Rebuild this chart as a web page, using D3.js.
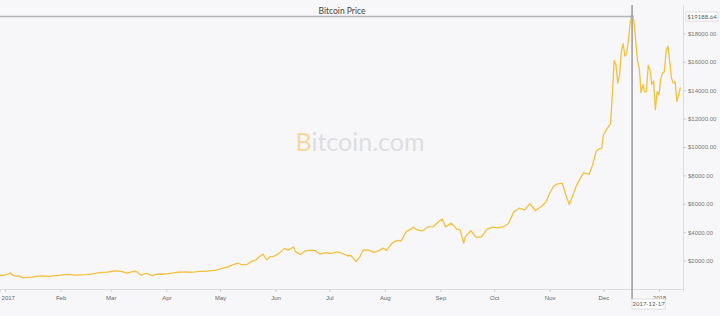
<!DOCTYPE html>
<html>
<head>
<meta charset="utf-8">
<script src="https://cdn.jsdelivr.net/npm/d3@7"></script>
<style>
  body { margin: 0; background: #f7f7f9; }
  svg { display: block; font-family: Lato, "Open Sans", sans-serif; }
</style>
</head>
<body>
<svg id="chart"></svg>
<script>
let width = 720;
let height = 316;

// daily-ish closing prices
let dates = ["2016-12-28","2016-12-31","2017-01-02","2017-01-04","2017-01-05","2017-01-07","2017-01-09","2017-01-11","2017-01-13","2017-01-16","2017-01-19","2017-01-22","2017-01-25","2017-01-28","2017-01-31",
  "2017-02-03","2017-02-06","2017-02-09","2017-02-12","2017-02-15","2017-02-18","2017-02-21","2017-02-24","2017-02-27",
  "2017-03-02","2017-03-04","2017-03-07","2017-03-10","2017-03-13","2017-03-15","2017-03-18","2017-03-21","2017-03-24","2017-03-27","2017-03-30",
  "2017-04-02","2017-04-05","2017-04-08","2017-04-11","2017-04-14","2017-04-17","2017-04-20","2017-04-23","2017-04-26","2017-04-29",
  "2017-05-02","2017-05-05","2017-05-08","2017-05-11","2017-05-13","2017-05-16","2017-05-19","2017-05-21","2017-05-23","2017-05-25","2017-05-27","2017-05-29","2017-05-31",
  "2017-06-03","2017-06-06","2017-06-08","2017-06-11","2017-06-12","2017-06-15","2017-06-17","2017-06-20","2017-06-23","2017-06-26","2017-06-29",
  "2017-07-02","2017-07-05","2017-07-08","2017-07-11","2017-07-13","2017-07-16","2017-07-18","2017-07-20","2017-07-23","2017-07-26","2017-07-29","2017-07-31",
  "2017-08-02","2017-08-05","2017-08-08","2017-08-10","2017-08-13","2017-08-15","2017-08-17","2017-08-19","2017-08-22","2017-08-25","2017-08-28","2017-08-31",
  "2017-09-02","2017-09-04","2017-09-07","2017-09-10","2017-09-12","2017-09-14","2017-09-15","2017-09-18","2017-09-21","2017-09-24","2017-09-27","2017-09-30",
  "2017-10-03","2017-10-06","2017-10-09","2017-10-12","2017-10-15","2017-10-18","2017-10-21","2017-10-24","2017-10-27","2017-10-30",
  "2017-11-01","2017-11-03","2017-11-05","2017-11-08","2017-11-10","2017-11-12","2017-11-14","2017-11-16","2017-11-18","2017-11-20","2017-11-23","2017-11-25","2017-11-27","2017-11-29","2017-11-30",
  "2017-12-01","2017-12-03","2017-12-05","2017-12-06","2017-12-07","2017-12-08","2017-12-09","2017-12-10","2017-12-11","2017-12-12","2017-12-13","2017-12-14","2017-12-15","2017-12-16","2017-12-17","2017-12-18","2017-12-19","2017-12-20","2017-12-21","2017-12-22","2017-12-23","2017-12-24","2017-12-25","2017-12-26","2017-12-27","2017-12-28","2017-12-29","2017-12-30","2017-12-31",
  "2018-01-01","2018-01-02","2018-01-03","2018-01-04","2018-01-05","2018-01-06","2018-01-07","2018-01-08","2018-01-09","2018-01-10","2018-01-11","2018-01-12","2018-01-13"];

let prices = [975,960,1020,1130,1010,900,905,780,820,830,900,920,895,920,965,
  1015,1025,980,1000,1010,1050,1120,1170,1190,
  1250,1270,1240,1110,1230,1250,970,1110,940,1040,1040,
  1090,1130,1180,1200,1180,1200,1240,1240,1290,1330,
  1450,1540,1700,1830,1710,1720,1960,2040,2290,2450,2050,2280,2300,
  2510,2860,2740,2960,2650,2420,2650,2740,2700,2450,2560,
  2500,2610,2520,2340,2360,1930,2260,2750,2740,2580,2720,2880,
  2720,3230,3420,3380,4060,4180,4350,4160,4090,4370,4390,4740,
  4920,4360,4640,4230,4160,3230,3690,4100,3630,3670,4210,4360,
  4310,4370,4610,5430,5690,5570,6010,5510,5780,6130,
  6740,7200,7390,7460,6620,5950,6630,7300,7790,8200,8080,8740,9730,9890,9900,
  10860,11290,11650,13750,16100,15800,14500,15060,16730,17280,16400,16600,17600,18800,19188.64,18900,17500,16080,15590,13830,14400,13900,13880,15750,15400,14400,14650,12620,13900,
  13660,14800,15200,15300,16800,17100,16040,14850,14500,14600,13200,13700,14200];

let yTicks = [2000,4000,6000,8000,10000,12000,14000,16000,18000];
let titleText = "Bitcoin Price";
let hoverDate = "2017-12-17";

let parseDate = d3.timeParse("%Y-%m-%d");
let data = dates.map((d, i) => ({date: parseDate(d), price: prices[i]}));

let svg = d3.select("#chart")
  .attr("width", width)
  .attr("height", height);

svg.append("rect").attr("width", width).attr("height", height).attr("fill", "#f7f7f9");

let x = d3.scaleTime()
  .domain([new Date(2016, 11, 29, 4), new Date(2018, 0, 14, 10)])
  .range([0, 683]);
let y = d3.scaleLinear().domain([0, 20000]).range([289, 5]);

// watermark
let wm = svg.append("text")
  .attr("x", 360).attr("y", 151)
  .attr("text-anchor", "middle")
  .style("font-size", "25px")
  .style("font-weight", 400);
wm.append("tspan").attr("fill", "#f5d89a").text("B");
wm.append("tspan").attr("fill", "#dedee1").text("itcoin.com");

// x axis
let fmt = d => d.getMonth() === 0 ? d3.timeFormat("%Y")(d) : d3.timeFormat("%b")(d);
let xAxis = svg.append("g")
  .attr("transform", "translate(0,289)")
  .call(d3.axisBottom(x).ticks(d3.timeMonth.every(1)).tickFormat(fmt).tickSize(3).tickPadding(4));
xAxis.select(".domain").attr("stroke", "#dddde0");
xAxis.selectAll("line").attr("stroke", "#cfcfd3");
xAxis.selectAll("text").attr("fill", "#666").style("font-size", "6px");
// first label sits on the left edge
xAxis.selectAll("text").filter((d, i) => i === 0).attr("text-anchor", "start").attr("x", -4);

// y axis on right
let yAxis = svg.append("g")
  .attr("transform", "translate(683,0)")
  .call(d3.axisRight(y).tickValues(yTicks).tickFormat(d => "$" + d.toFixed(2)).tickSize(3).tickPadding(2).tickSizeOuter(0));
yAxis.select(".domain").attr("stroke", "#dddde0");
yAxis.selectAll("line").attr("stroke", "#cfcfd3");
yAxis.selectAll("text").attr("fill", "#777").style("font-size", "6px");

// price line
svg.append("clipPath").attr("id", "clip")
  .append("rect").attr("x", 0).attr("y", 0).attr("width", 683).attr("height", 289);

let line = d3.line().x(d => x(d.date)).y(d => y(d.price));
svg.append("path")
  .datum(data)
  .attr("clip-path", "url(#clip)")
  .attr("fill", "none")
  .attr("stroke", "#f5c03a")
  .attr("stroke-width", 1.3)
  .attr("stroke-linejoin", "round")
  .attr("d", line);

// crosshair on peak
let hp = data.find(d => d3.timeFormat("%Y-%m-%d")(d.date) === hoverDate);
let hx = x(hp.date), hy = y(hp.price);

svg.append("line")
  .attr("x1", 0).attr("x2", hx).attr("y1", hy).attr("y2", hy)
  .attr("stroke", "#b4b4b8").attr("stroke-width", 1.5);
svg.append("line")
  .attr("x1", hx).attr("x2", hx).attr("y1", 5).attr("y2", 299)
  .attr("stroke", "#a9a9ad").attr("stroke-width", 1.8);
svg.append("circle").attr("cx", hx).attr("cy", hy).attr("r", 1.8).attr("fill", "#a9a9ad");

// x hover label
let xl = svg.append("g").attr("transform", `translate(${hx},299)`);
xl.append("rect").attr("width", 33).attr("height", 10).attr("fill", "#fff").attr("stroke", "#d6d6da").attr("stroke-width", 0.8);
xl.append("text").attr("x", 16.5).attr("y", 7.3).attr("text-anchor", "middle")
  .attr("fill", "#555").style("font-size", "6px").text(hoverDate);

// y hover label
let yl = svg.append("g").attr("transform", `translate(686,${hy - 4.5})`);
yl.append("rect").attr("width", 32).attr("height", 9).attr("fill", "#fff").attr("stroke", "#d6d6da").attr("stroke-width", 0.8);
yl.append("text").attr("x", 16).attr("y", 6.6).attr("text-anchor", "middle")
  .attr("fill", "#555").style("font-size", "6px").text("$" + hp.price.toFixed(2));

// title
svg.append("text")
  .attr("x", 342).attr("y", 14)
  .attr("text-anchor", "middle")
  .attr("fill", "#444")
  .style("font-size", "8.5px")
  .text(titleText);
</script>
</body>
</html>
